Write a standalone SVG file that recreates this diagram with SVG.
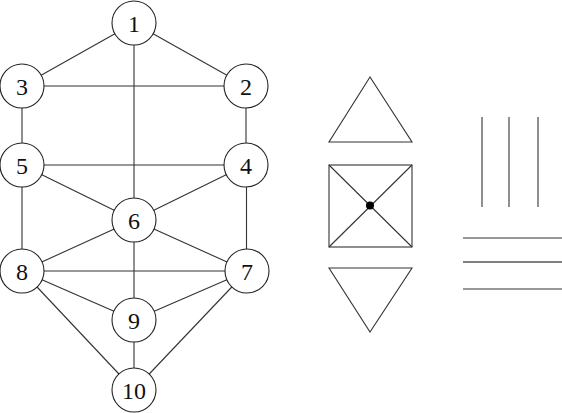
<svg xmlns="http://www.w3.org/2000/svg" width="562" height="413" viewBox="0 0 562 413">
<style>
.e line{stroke:#333;stroke-width:1.1}
.n circle{fill:#fff;stroke:#222;stroke-width:1.1}
.n text{font-family:"Liberation Serif","DejaVu Serif",serif;font-size:24px;fill:#111;text-anchor:middle;dominant-baseline:central}
.s{fill:none;stroke:#333;stroke-width:1.1}
</style>
<rect width="562" height="413" fill="#fff"/>
<g id="connectors" class="e">
<line x1="134" y1="23" x2="22" y2="86"/>
<line x1="134" y1="23" x2="246" y2="86"/>
<line x1="134" y1="23" x2="134" y2="220"/>
<line x1="22" y1="86" x2="246" y2="86"/>
<line x1="22" y1="86" x2="22" y2="165"/>
<line x1="246" y1="86" x2="246" y2="165"/>
<line x1="22" y1="165" x2="246" y2="165"/>
<line x1="22" y1="165" x2="134" y2="220"/>
<line x1="246" y1="165" x2="134" y2="220"/>
<line x1="22" y1="165" x2="22" y2="271"/>
<line x1="246.5" y1="165" x2="246.5" y2="271"/>
<line x1="134" y1="220" x2="22" y2="271"/>
<line x1="134" y1="220" x2="247" y2="271"/>
<line x1="134" y1="220" x2="134" y2="320"/>
<line x1="22" y1="271" x2="247" y2="271"/>
<line x1="22" y1="271" x2="134" y2="320"/>
<line x1="247" y1="271" x2="134" y2="320"/>
<line x1="22" y1="271" x2="134" y2="390"/>
<line x1="247" y1="271" x2="134" y2="390"/>
<line x1="134" y1="320" x2="134" y2="390"/>
</g>
<g id="n1" class="n"><circle cx="134" cy="23" r="22"/><text x="134" y="24">1</text></g>
<g id="n2" class="n"><circle cx="246" cy="86" r="22"/><text x="246" y="87">2</text></g>
<g id="n3" class="n"><circle cx="22" cy="86" r="22"/><text x="22" y="87">3</text></g>
<g id="n4" class="n"><circle cx="246" cy="165" r="22"/><text x="246" y="166">4</text></g>
<g id="n5" class="n"><circle cx="22" cy="165" r="22"/><text x="22" y="166">5</text></g>
<g id="n6" class="n"><circle cx="134" cy="220" r="22"/><text x="134" y="221">6</text></g>
<g id="n7" class="n"><circle cx="247" cy="271" r="22"/><text x="247" y="272">7</text></g>
<g id="n8" class="n"><circle cx="22" cy="271" r="22"/><text x="22" y="272">8</text></g>
<g id="n9" class="n"><circle cx="134" cy="320" r="22"/><text x="134" y="321">9</text></g>
<g id="n10" class="n"><circle cx="134" cy="390" r="22"/><text x="134" y="391">10</text></g>
<g id="symbols">
<polygon class="s" points="370,77 329,142 412,142"/>
<rect class="s" x="329" y="165" width="83" height="82"/>
<line class="s" x1="329" y1="165" x2="412" y2="247"/>
<line class="s" x1="412" y1="165" x2="329" y2="247"/>
<circle cx="370" cy="205.5" r="4" fill="#000"/>
<polygon class="s" points="329,268 412,268 370,332"/>
<line class="s" x1="482" y1="117" x2="482" y2="207"/>
<line class="s" x1="509" y1="117" x2="509" y2="207"/>
<line class="s" x1="538" y1="117" x2="538" y2="207"/>
<line class="s" x1="463" y1="238" x2="562" y2="238"/>
<line class="s" x1="463" y1="262" x2="562" y2="262" style="stroke:#000"/>
<line class="s" x1="463" y1="289" x2="562" y2="289"/>
</g>
</svg>
